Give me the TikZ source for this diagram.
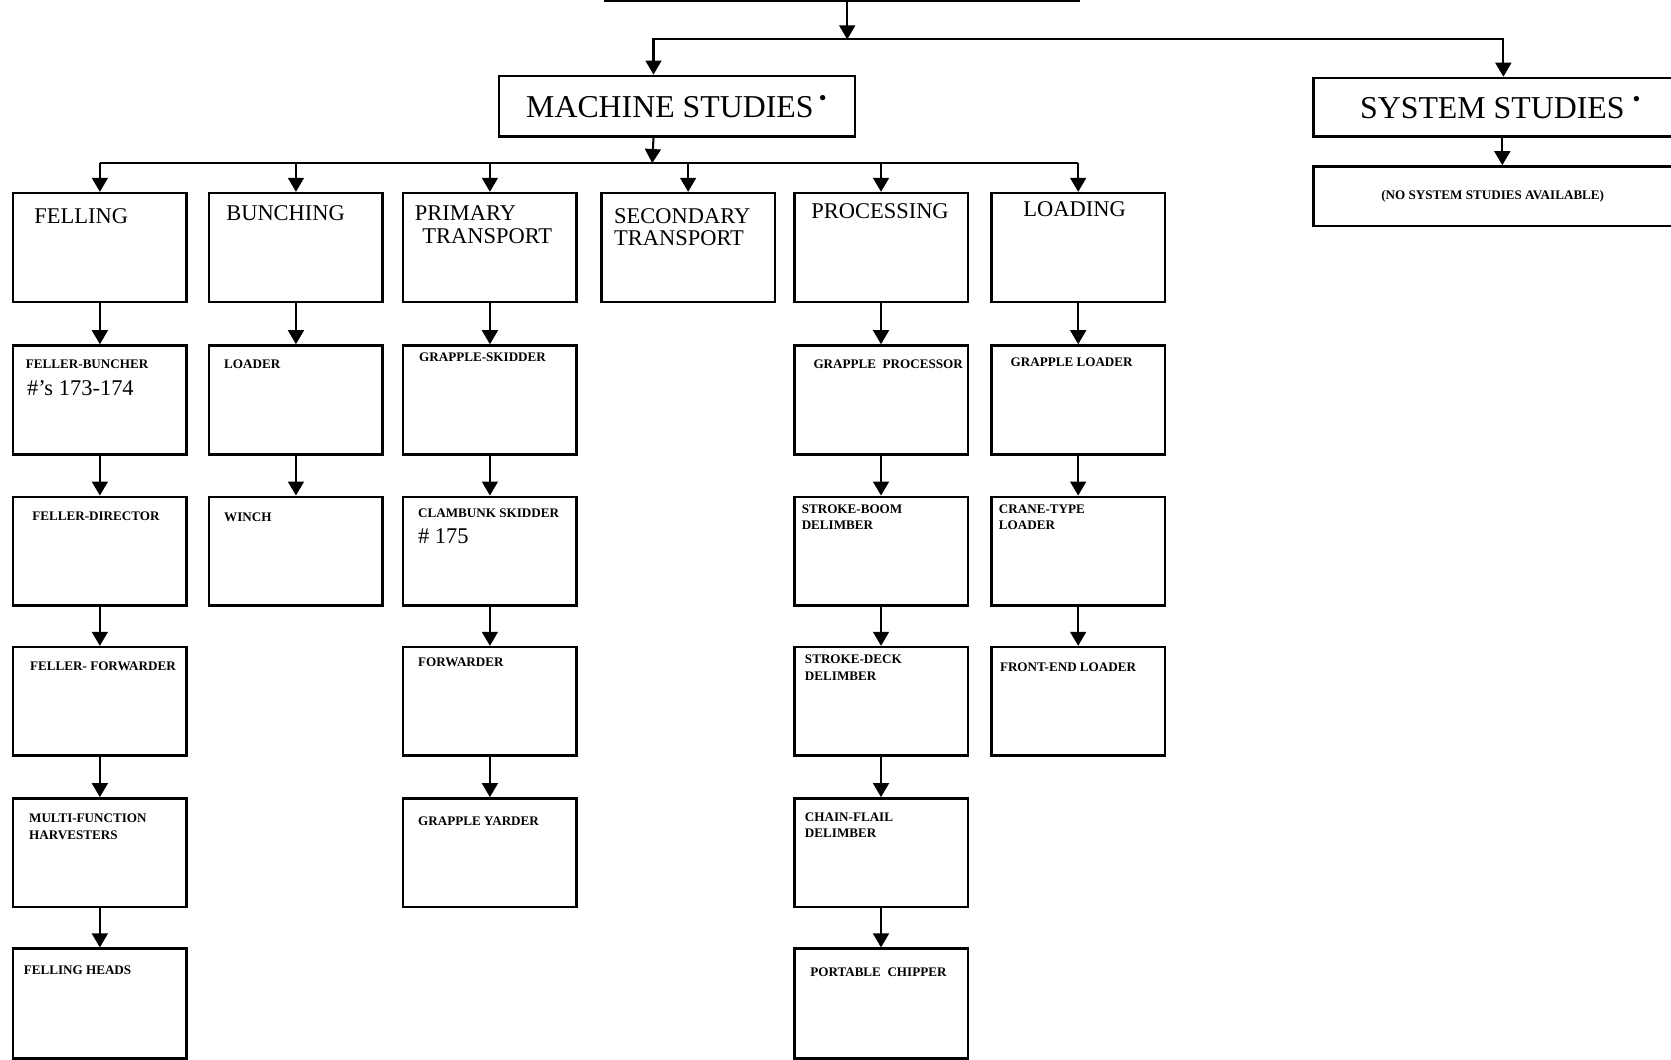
\documentclass[tikz,border=0pt]{standalone}
\usepackage{fontspec}
\setmainfont{Liberation Serif}
\usetikzlibrary{arrows.meta}

\begin{document}
\begin{tikzpicture}[x=0.02cm, y=-0.02cm,
    box/.style={draw, line width=1.4pt, anchor=north west, minimum width=3.26cm, minimum height=2.04cm, inner sep=0pt},
    arr/.style={line width=1.1pt, -{Triangle[width=8.5pt,length=7.5pt]}},
    bar/.style={line width=1.1pt},
    hd/.style={anchor=north west, inner sep=0pt, align=left, font=\fontsize{12}{12}\selectfont},
    sm/.style={anchor=north west, inner sep=0pt, align=left, font=\fontsize{7}{9}\selectfont\bfseries},
    big/.style={font=\fontsize{17}{17}\selectfont}
    ]
    \useasboundingbox (0,0) rectangle (1568,994);

    % top of the chart
    \coordinate (topl) at (567,1);
    \coordinate (topr) at (1013,1);
    \coordinate (top) at (795,1);
    \coordinate (bus1) at (795,37);
    \coordinate (bus2) at (612,153);

    \node[box, big, minimum width=6.68cm, minimum height=1.14cm] (mach) at (467,70) {MACHINE STUDIES\,\textsuperscript{\textbullet}};
    \node[box, big, minimum width=6.74cm, minimum height=1.1cm] (sys) at (1231,72) {\hspace{0.3cm}SYSTEM STUDIES \textsuperscript{\textbullet}};
    \node[box, minimum width=6.74cm, minimum height=1.12cm, font=\fontsize{7}{9}\selectfont\bfseries] (nosys) at (1231,155) {(NO SYSTEM STUDIES AVAILABLE)};

    \coordinate (min) at ([xshift=-0.44cm]mach.north);
    \coordinate (mout) at ([xshift=-0.44cm]mach.south);
    \coordinate (sin) at ([xshift=0.2cm]sys.north);

    % machine study groups
    \node[box] (fell) at (11,180) {};
    \node[box] (bunch) at (195,180) {};
    \node[box] (prim) at (377,180) {};
    \node[box] (sec) at (563,180) {};
    \node[box] (proc) at (744,180) {};
    \node[box] (load) at (929,180) {};

    \node[hd] (tfell) at (32,195) {FELLING};
    \node[hd] (tbunch) at (212,193) {BUNCHING};
    \node[hd] (tprim) at (389,193) {PRIMARY\\\hspace{4pt}TRANSPORT};
    \node[hd] (tsec) at (576,195) {SECONDARY\\TRANSPORT};
    \node[hd] (tproc) at (761,191) {PROCESSING};
    \node[hd] (tload) at (960,189) {LOADING};

    % felling
    \node[box] (fb) at (11,323) {};
    \node[box] (fd) at (11,465) {};
    \node[box] (ff) at (11,606) {};
    \node[box] (mf) at (11,748) {};
    \node[box, minimum height=2.06cm] (fh) at (11,889) {};
    \node[sm] (tfb) at (24,337) {FELLER-BUNCHER};
    \node[hd] (nfb) at (25,357) {\#'s 173-174};
    \node[sm] (tfd) at (30,480) {FELLER-DIRECTOR};
    \node[sm] (tff) at (28,621) {FELLER- FORWARDER};
    \node[sm] (tmf) at (27,763) {MULTI-FUNCTION\\HARVESTERS};
    \node[sm] (tfh) at (22,906) {FELLING HEADS};

    % bunching
    \node[box] (ldr) at (195,323) {};
    \node[box] (winch) at (195,465) {};
    \node[sm] (tldr) at (210,337) {LOADER};
    \node[sm] (twinch) at (210,481) {WINCH};

    % primary transport
    \node[box] (gs) at (377,323) {};
    \node[box] (cs) at (377,465) {};
    \node[box] (fwd) at (377,606) {};
    \node[box] (gy) at (377,748) {};
    \node[sm] (tgs) at (393,331) {GRAPPLE-SKIDDER};
    \node[sm] (tcs) at (392,477) {CLAMBUNK SKIDDER};
    \node[hd] (ncs) at (392,496) {\# 175};
    \node[sm] (tfwd) at (392,617) {FORWARDER};
    \node[sm] (tgy) at (392,766) {GRAPPLE YARDER};

    % processing
    \node[box] (gp) at (744,323) {};
    \node[box] (sb) at (744,465) {};
    \node[box] (sd) at (744,606) {};
    \node[box] (cf) at (744,748) {};
    \node[box, minimum height=2.06cm] (pc) at (744,889) {};
    \node[sm] (tgp) at (763,337) {GRAPPLE\ \ PROCESSOR};
    \node[sm] (tsb) at (752,473) {STROKE-BOOM\\DELIMBER};
    \node[sm] (tsd) at (755,614) {STROKE-DECK\\DELIMBER};
    \node[sm] (tcf) at (755,762) {CHAIN-FLAIL\\DELIMBER};
    \node[sm] (tpc) at (760,908) {PORTABLE\ \ CHIPPER};

    % loading
    \node[box] (gl) at (929,323) {};
    \node[box] (ct) at (929,465) {};
    \node[box] (fe) at (929,606) {};
    \node[sm] (tgl) at (948,335) {GRAPPLE LOADER};
    \node[sm] (tct) at (937,473) {CRANE-TYPE\\LOADER};
    \node[sm] (tfe) at (938,622) {FRONT-END LOADER};

    % connectors
    \draw[bar] (topl) -- (topr);
    \draw[arr] (top) -- (bus1);
    \draw[arr] (bus1) -| (min);
    \draw[arr] (bus1) -| (sin);
    \draw[arr] ([xshift=0.18cm]sys.south) -- ([xshift=0.18cm]nosys.north);
    \draw[arr] (mout) -- (bus2);
    \draw[bar] (bus2 -| fell.north) -- (bus2 -| load.north);
    \foreach \n in {fell,bunch,prim,sec,proc,load}
      \draw[arr] (bus2 -| \n.north) -- (\n.north);
    \foreach \a/\b in {fell/fb, fb/fd, fd/ff, ff/mf, mf/fh, bunch/ldr, ldr/winch,
                       prim/gs, gs/cs, cs/fwd, fwd/gy,
                       proc/gp, gp/sb, sb/sd, sd/cf, cf/pc,
                       load/gl, gl/ct, ct/fe}
      \draw[arr] (\a.south) -- (\b.north);
  \end{tikzpicture}
\end{document}
